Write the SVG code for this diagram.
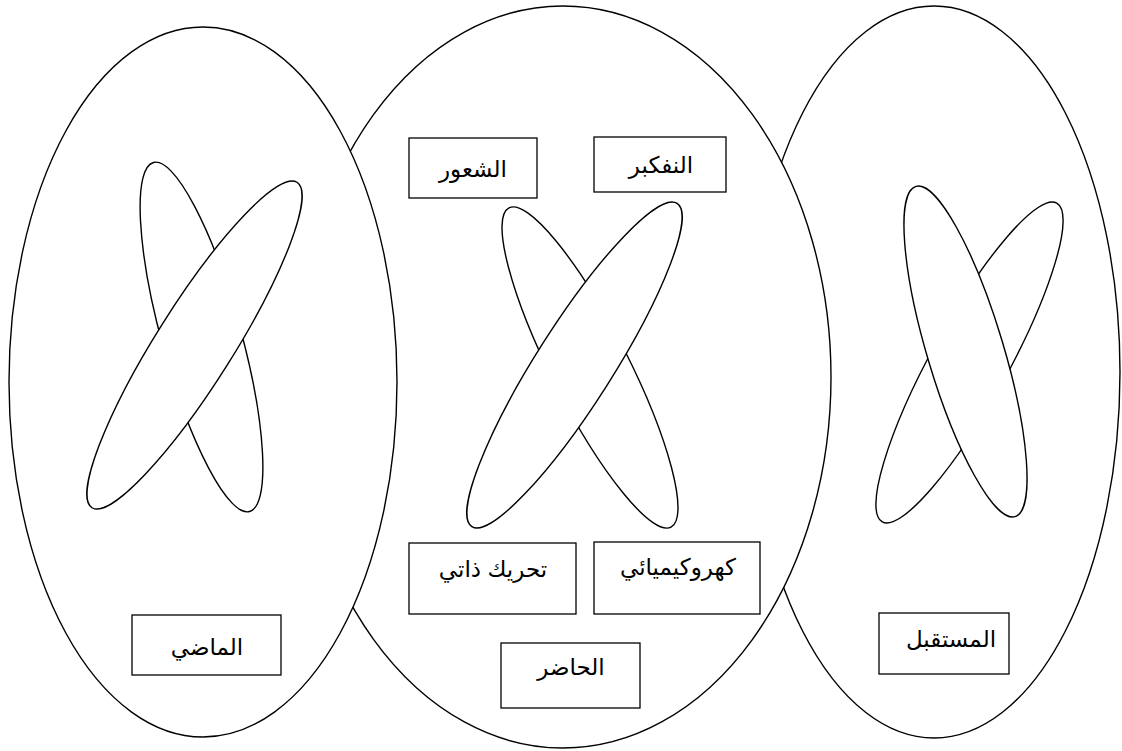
<svg xmlns="http://www.w3.org/2000/svg" width="1122" height="751" viewBox="0 0 1122 751">
<style>
.big{fill:#fff;stroke:#000;stroke-width:1.4}
.loop{fill:#fff;stroke:#000;stroke-width:1.4}
.box{fill:#fff;stroke:#000;stroke-width:1.3}
.lbl{font-family:"Liberation Sans","DejaVu Sans",sans-serif;font-size:23px;fill:#000;text-anchor:middle;direction:rtl}
</style>
<rect width="1122" height="751" fill="#fff"/>
<g id="future">
<ellipse class="big" cx="934" cy="372" rx="186" ry="366"/>
<ellipse class="loop" cx="969.5" cy="362.5" rx="181.7" ry="38.6" transform="rotate(-61.3 969.5 362.5)"/>
<ellipse class="loop" cx="965.5" cy="351.5" rx="172.4" ry="38.1" transform="rotate(73.3 965.5 351.5)"/>
<g id="node-future">
<rect class="box" x="879" y="613" width="130" height="61"/>
<text class="lbl" x="951" y="647">المستقبل</text>
</g>
</g>
<g id="present">
<ellipse class="big" cx="563" cy="377" rx="268" ry="371"/>
<ellipse class="loop" cx="590" cy="367.5" rx="179" ry="38.6" transform="rotate(63.1 590 367.5)"/>
<ellipse class="loop" cx="574.5" cy="365" rx="191.5" ry="38.3" transform="rotate(-57.6 574.5 365)"/>
<g id="node-feeling">
<rect class="box" x="409" y="138" width="128" height="60"/>
<text class="lbl" x="473" y="177">الشعور</text>
</g>
<g id="node-thinking">
<rect class="box" x="594" y="137" width="132" height="55"/>
<text class="lbl" x="661" y="173">النفكبر</text>
</g>
<g id="node-selfmotion">
<rect class="box" x="409" y="543" width="167" height="71"/>
<text class="lbl" x="493" y="577">تحريك ذاتي</text>
</g>
<g id="node-electrochemical">
<rect class="box" x="594" y="542" width="166" height="72"/>
<text class="lbl" x="678" y="575">كهروكيميائي</text>
</g>
<g id="node-present">
<rect class="box" x="501" y="643" width="139" height="65"/>
<text class="lbl" x="571" y="675">الحاضر</text>
</g>
</g>
<g id="past">
<ellipse class="big" cx="203" cy="382" rx="194" ry="355"/>
<ellipse class="loop" cx="201.5" cy="337" rx="181" ry="39.6" transform="rotate(74.6 201.5 337)"/>
<ellipse class="loop" cx="194.5" cy="345" rx="192.3" ry="38.4" transform="rotate(-57.8 194.5 345)"/>
<g id="node-past">
<rect class="box" x="132" y="615" width="149" height="60"/>
<text class="lbl" x="207" y="655">الماضي</text>
</g>
</g>
<g id="connectors"/>
</svg>
